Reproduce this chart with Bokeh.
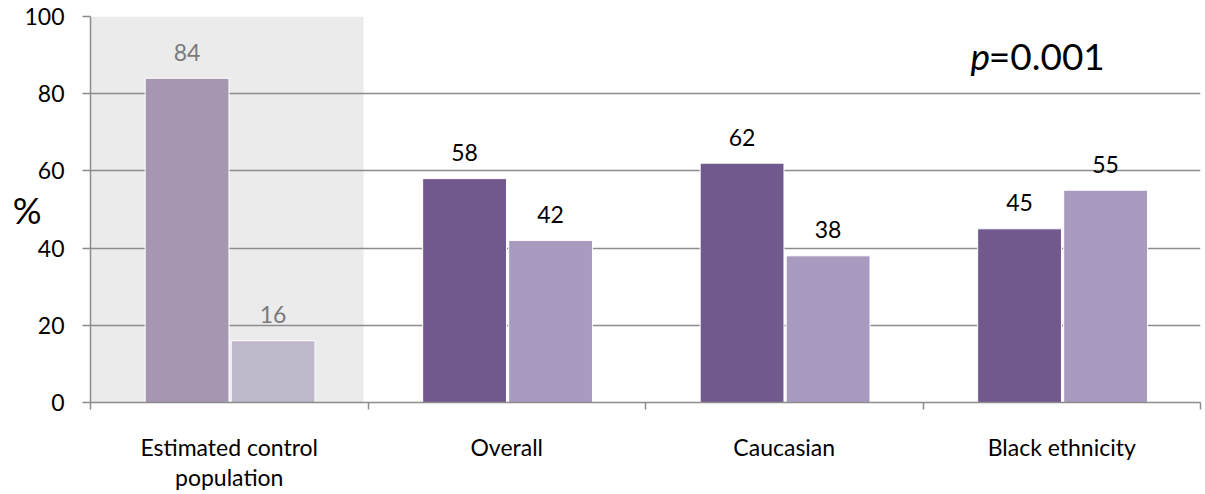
from bokeh.plotting import figure
from bokeh.models import (ColumnDataSource, Range1d, FixedTicker, BoxAnnotation, Label)
from bokeh.core.properties import value
from bokeh.embed import file_html
from bokeh.resources import INLINE

# Group labels and the two percentage series for each group
categories = ["Estimated control\npopulation", "Overall", "Caucasian", "Black ethnicity"]
series_a = [84, 58, 62, 45]
series_b = [16, 42, 38, 55]
y_ticks = [0, 20, 40, 60, 80, 100]
p_value = "0.001"

FONT = "Lato"
GRID = "#8c8c8c"

# First group (control estimate) is drawn in muted tones on a grey band
colors_a = ["#a597b1", "#71598e", "#71598e", "#71598e"]
colors_b = ["#bfb7ca", "#a99bbf", "#a99bbf", "#a99bbf"]
label_colors = ["#7a7a7a", "#000000", "#000000", "#000000"]

idx = list(range(len(categories)))
centers = [i + 0.5 for i in idx]
off_a, off_b, bw = -0.152, 0.158, 0.302

src_a = ColumnDataSource(dict(x=[c + off_a for c in centers], top=series_a,
                              color=colors_a, lab=[str(v) for v in series_a],
                              lc=label_colors))
src_b = ColumnDataSource(dict(x=[c + off_b for c in centers], top=series_b,
                              color=colors_b, lab=[str(v) for v in series_b],
                              lc=label_colors))

p = figure(width=1205, height=494, output_backend="svg", toolbar_location=None,
           x_range=Range1d(0, len(categories)), y_range=Range1d(0, 100),
           min_border_left=90, min_border_right=5, min_border_top=16,
           min_border_bottom=91)
p.outline_line_color = None
p.background_fill_color = "white"

# grey band behind the control-population group
p.add_layout(BoxAnnotation(left=0, right=0.984, fill_color="#ebebeb", fill_alpha=1,
                           line_alpha=0, level="image"))

for src in (src_a, src_b):
    p.vbar(x="x", top="top", bottom=0, width=bw, source=src, fill_color="color",
           line_color="white", line_width=1)
    p.text(x="x", y="top", text="lab", source=src, text_color="lc",
           text_align="center", text_baseline="alphabetic", y_offset=-26,
           text_font=value(FONT), text_font_size="23px")

# axes
xa = p.xaxis[0]
xa.ticker = FixedTicker(ticks=centers, minor_ticks=idx + [len(categories)])
xa.major_label_overrides = {c: lab for c, lab in zip(centers, categories)}
xa.major_tick_out = 0
xa.major_tick_in = 0
xa.minor_tick_out = 7
xa.minor_tick_in = 0
xa.minor_tick_line_color = GRID
xa.minor_tick_line_width = 1.5
xa.axis_line_color = GRID
xa.axis_line_width = 1.5
xa.major_label_standoff = 23
xa.major_label_text_font = FONT
xa.major_label_text_font_size = "23px"
xa.major_label_text_line_height = 1.1
xa.major_label_text_color = "black"

ya = p.yaxis[0]
ya.ticker = FixedTicker(ticks=y_ticks)
ya.major_tick_out = 8
ya.major_tick_in = 0
ya.minor_tick_out = 0
ya.minor_tick_in = 0
ya.major_tick_line_color = GRID
ya.major_tick_line_width = 1.5
ya.axis_line_color = GRID
ya.axis_line_width = 1.5
ya.major_label_standoff = 18
ya.major_label_text_font = FONT
ya.major_label_text_font_size = "23px"
ya.major_label_text_color = "black"
# unit label, set horizontally and tucked in beside the tick labels
ya.axis_label = "%"
ya.axis_label_orientation = "horizontal"
ya.axis_label_standoff = -20
ya.axis_label_text_font = FONT
ya.axis_label_text_font_size = "36px"
ya.axis_label_text_font_style = "normal"
ya.axis_label_text_color = "black"

p.xgrid.visible = False
p.ygrid.ticker = FixedTicker(ticks=y_ticks)
p.ygrid.grid_line_color = GRID
p.ygrid.grid_line_width = 1.5

# significance annotation
p.add_layout(Label(x=3.171, y=89.9, text="p", text_font=FONT, text_font_size="37px",
                   text_font_style="italic", text_align="left",
                   text_baseline="alphabetic", text_color="black"))
p.add_layout(Label(x=3.237, y=89.9, text="=" + p_value, text_font=FONT,
                   text_font_size="37px", text_align="left",
                   text_baseline="alphabetic", text_color="black"))

open("out.html", "w").write(file_html(p, INLINE))
